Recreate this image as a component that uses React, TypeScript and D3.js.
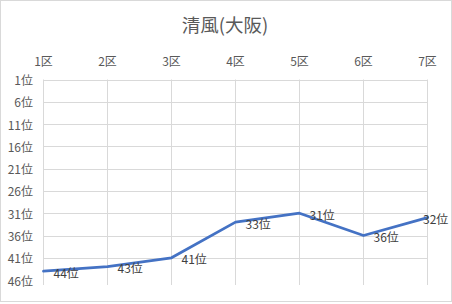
import React from "react";
import * as d3 from "d3";

const categories = ["1区", "2区", "3区", "4区", "5区", "6区", "7区"];
const ranks = [44, 43, 41, 33, 31, 36, 32];
const yTicks = [1, 6, 11, 16, 21, 26, 31, 36, 41, 46];
const title = "清風(大阪)";

const W = 452;
const H = 304;
const FONT = "'Noto Sans CJK JP', 'Noto Sans', sans-serif";

export default function App() {
  const x = d3.scalePoint<string>().domain(categories).range([43.5, 427.5]);
  const y = d3.scaleLinear().domain([1, 47.1]).range([79.5, 285]);
  const line = d3
    .line<number>()
    .x((_, i) => x(categories[i]) as number)
    .y((d) => y(d));

  return (
    <svg
      width={W}
      height={H}
      style={{ position: "fixed", left: 0, top: 0 }}
      fontFamily={FONT}
    >
      <rect x={0} y={0} width={W} height={H} fill="#fff" />
      <rect x={0.5} y={0.5} width={451} height={301} fill="none" stroke="#d9d9d9" />
      <text x={225} y={32} textAnchor="middle" fontSize={18.5} fill="#595959">
        {title}
      </text>
      {yTicks.map((t) =>
        t === 46 ? null : (
          <line key={"h" + t} x1={43.5} x2={427.5} y1={Math.round(y(t)) + 0.5} y2={Math.round(y(t)) + 0.5} stroke="#d9d9d9" />
        )
      )}
      {categories.map((c) => (
        <line key={"v" + c} x1={x(c)} x2={x(c)} y1={79.5} y2={285} stroke="#d9d9d9" />
      ))}
      {categories.map((c) => (
        <text key={"xl" + c} x={x(c)} y={60} textAnchor="middle" dominantBaseline="central" fontSize={12} fill="#595959">
          {c}
        </text>
      ))}
      {yTicks.map((t) => (
        <text key={"yl" + t} x={33} y={y(t)} textAnchor="end" dominantBaseline="central" fontSize={12} fill="#595959">
          {t + "位"}
        </text>
      ))}
      <path d={line(ranks) || ""} fill="none" stroke="#4472C4" strokeWidth={2.8} strokeLinejoin="round" strokeLinecap="round" />
      {ranks.map((r, i) => {
        const px = x(categories[i]) as number;
        const lx = Math.min(px + 10, 423);
        return (
          <text key={"dl" + i} x={lx} y={y(r) + 1} textAnchor="start" dominantBaseline="central" fontSize={12} fill="#404040">
            {r + "位"}
          </text>
        );
      })}
    </svg>
  );
}
